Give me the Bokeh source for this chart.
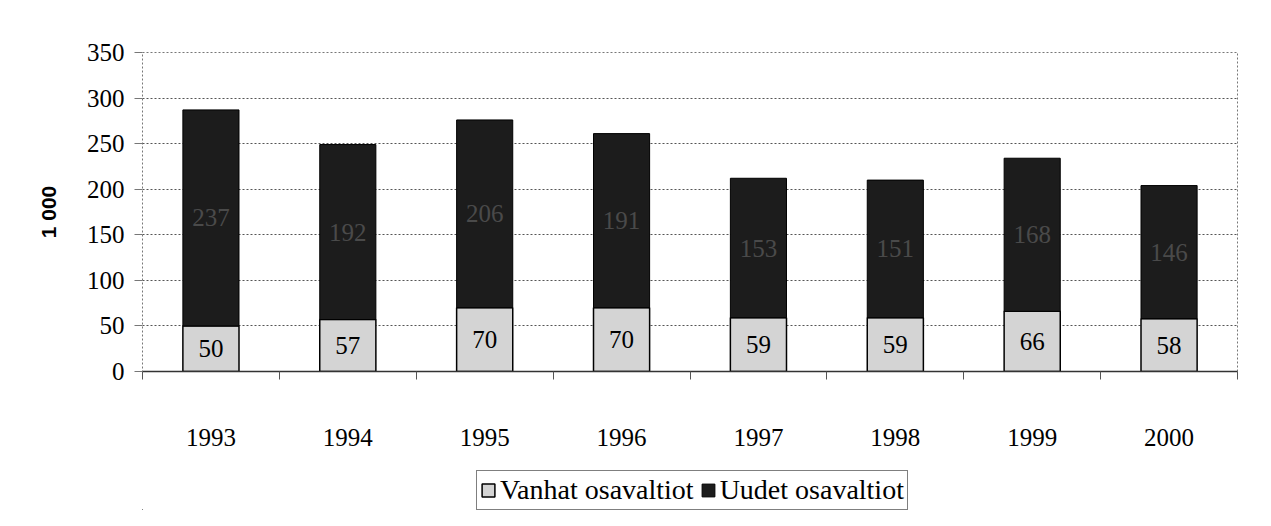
from bokeh.plotting import figure
from bokeh.layouts import column
from bokeh.models import (ColumnDataSource, FixedTicker, Legend, LegendItem, Range1d)
from bokeh.core.properties import value
from bokeh.embed import file_html
from bokeh.resources import INLINE

years = ["1993", "1994", "1995", "1996", "1997", "1998", "1999", "2000"]
vanhat = [50, 57, 70, 70, 59, 59, 66, 58]
uudet = [237, 192, 206, 191, 153, 151, 168, 146]
y_ticks = [0, 50, 100, 150, 200, 250, 300, 350]
series_names = ["Vanhat osavaltiot", "Uudet osavaltiot"]

SERIF = "Liberation Serif"
LIGHT = "#d4d4d4"
DARK = "#1c1c1c"
xc = [i + 0.5 for i in range(len(years))]
src = ColumnDataSource(dict(
    x=xc,
    vtop=vanhat,
    utop=[a + b for a, b in zip(vanhat, uudet)],
    vmid=[a / 2 for a in vanhat],
    umid=[a + b / 2 for a, b in zip(vanhat, uudet)],
    vlab=[str(a) for a in vanhat],
    ulab=[str(b) for b in uudet],
))

p = figure(width=1255, height=458, output_backend="svg", toolbar_location=None,
           x_range=Range1d(0, len(years)), y_range=Range1d(0, 350),
           min_border_left=142, min_border_right=18, min_border_top=52,
           min_border_bottom=87)
p.background_fill_color = "white"
p.border_fill_color = "white"
p.outline_line_color = "#777777"
p.outline_line_dash = "2 2"

p.vbar(x="x", bottom=0, top="vtop", width=0.41, source=src,
       fill_color=LIGHT, line_color="black", line_width=1.5)
p.vbar(x="x", bottom="vtop", top="utop", width=0.41, source=src,
       fill_color=DARK, line_color="black", line_width=1)

p.text(x="x", y="vmid", text="vlab", source=src, text_align="center",
       text_baseline="middle", text_font=value(SERIF), text_font_size="25px",
       text_color="black")
p.text(x="x", y="umid", text="ulab", source=src, text_align="center",
       text_baseline="middle", text_font=value(SERIF), text_font_size="25px",
       text_color="#4a4a4a")

# y axis
p.yaxis.ticker = FixedTicker(ticks=y_ticks)
p.yaxis.major_label_text_font = SERIF
p.yaxis.major_label_text_font_size = "25px"
p.yaxis.major_label_text_color = "black"
p.yaxis.major_tick_out = 8
p.yaxis.major_tick_in = 0
p.yaxis.minor_tick_line_color = None
p.yaxis.major_tick_line_color = "#777777"
p.yaxis.axis_line_color = None
p.yaxis.major_label_standoff = 10
p.yaxis.axis_label = "1 000"
p.yaxis.axis_label_text_font = "Liberation Sans"
p.yaxis.axis_label_text_font_style = "bold"
p.yaxis.axis_label_text_font_size = "21px"
p.yaxis.axis_label_text_color = "black"
p.yaxis.axis_label_standoff = 24

# x axis: labels at centers, ticks at boundaries
p.xaxis.ticker = FixedTicker(ticks=xc, minor_ticks=list(range(len(years) + 1)))
p.xaxis.major_label_overrides = {x: y for x, y in zip(xc, years)}
p.xaxis.major_tick_line_color = None
p.xaxis.minor_tick_out = 8
p.xaxis.minor_tick_in = 0
p.xaxis.minor_tick_line_color = "#555555"
p.xaxis.axis_line_color = "#333333"
p.xaxis.axis_line_width = 1.5
p.xaxis.major_label_text_font = SERIF
p.xaxis.major_label_text_font_size = "25px"
p.xaxis.major_label_text_color = "black"
p.xaxis.major_label_standoff = 49

p.xgrid.grid_line_color = None
p.ygrid.ticker = FixedTicker(ticks=y_ticks)
p.ygrid.grid_line_color = "#555555"
p.ygrid.grid_line_dash = "2 2"
p.ygrid.grid_line_width = 1

# legend strip below the chart (its bars lie outside its visible range)
pl = figure(width=1255, height=52, output_backend="svg", toolbar_location=None,
            x_range=Range1d(100, 101), y_range=Range1d(1000, 1001),
            min_border=0, min_border_left=0, min_border_right=0,
            min_border_top=0, min_border_bottom=0)
pl.axis.visible = False
pl.grid.visible = False
pl.outline_line_color = None
pl.border_fill_color = "white"
pl.background_fill_color = "white"
lv = pl.vbar(x="x", bottom=0, top="vtop", width=0.41, source=src,
             fill_color=LIGHT, line_color="black", line_width=1.5)
lu = pl.vbar(x="x", bottom="vtop", top="utop", width=0.41, source=src,
             fill_color=DARK, line_color="black", line_width=1)

legend = Legend(items=[LegendItem(label=series_names[0], renderers=[lv]),
                       LegendItem(label=series_names[1], renderers=[lu])],
                orientation="horizontal", location=(334, 0))
legend.label_text_font = SERIF
legend.label_text_font_size = "28px"
legend.label_text_color = "black"
legend.border_line_color = "black"
legend.border_line_width = 1
legend.background_fill_alpha = 1
legend.glyph_width = 16
legend.glyph_height = 16
legend.spacing = 6
legend.label_standoff = 4
legend.padding = 3
legend.margin = 0
pl.add_layout(legend, "center")

layout = column(p, pl, spacing=0)
open("out.html", "w").write(file_html(layout, INLINE))
